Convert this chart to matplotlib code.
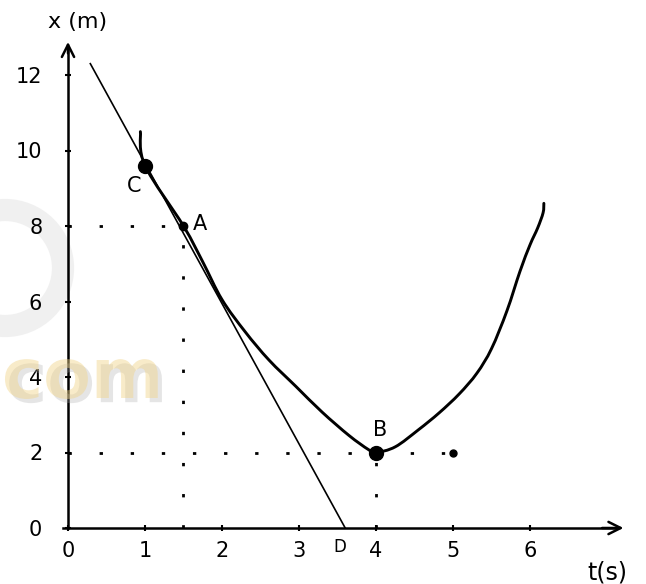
import numpy as np
import matplotlib.pyplot as plt
import matplotlib.patheffects as pe
from matplotlib.path import Path
from matplotlib.patches import PathPatch, Circle

# position-time curve of the particle (t in s, x in m)
curve_t = [0.94, 1.0, 1.5, 1.75, 2.0, 2.3, 2.61, 2.96, 3.30, 3.65, 3.9, 4.0,
           4.25, 4.55, 4.82, 5.08, 5.31, 5.50, 5.70, 5.87, 6.00, 6.10, 6.17, 6.18]
curve_x = [10.5, 9.6, 8.0, 7.05, 6.05, 5.2, 4.45, 3.75, 3.07, 2.45, 2.08, 2.0,
           2.15, 2.6, 3.05, 3.55, 4.1, 4.75, 5.75, 6.8, 7.5, 7.95, 8.35, 8.6]

# tangent line through A, reaching the t axis at D
tangent_t = [0.29, 3.6]
tangent_x = [12.3, 0.0]

# marked points
pt_C = (1.0, 9.6)
pt_A = (1.5, 8.0)
pt_B = (4.0, 2.0)
pt_E = (5.0, 2.0)
pt_D = (3.6, 0.0)

t_ticks = [0, 1, 2, 3, 4, 5, 6]
x_ticks = [0, 2, 4, 6, 8, 10, 12]


def smooth_path(xs, ys):
    """Catmull-Rom through the given points, drawn as cubic Bezier segments."""
    p = np.column_stack([xs, ys]).astype(float)
    p = np.vstack([p[0], p, p[-1]])
    verts = [p[1]]
    codes = [Path.MOVETO]
    for i in range(1, len(p) - 2):
        c1 = p[i] + (p[i + 1] - p[i - 1]) / 6.0
        c2 = p[i + 1] - (p[i + 2] - p[i]) / 6.0
        verts += [c1, c2, p[i + 1]]
        codes += [Path.CURVE4] * 3
    return Path(verts, codes)


W, H = 646, 584
fig = plt.figure(figsize=(W / 100, H / 100), dpi=100)
# axes box in pixels: left 30, right 640, top 30, bottom 560
ax = fig.add_axes([30 / W, (H - 560) / H, 610 / W, 530 / H])
ax.set_xlim((30 - 68) / 77.0, (640 - 68) / 77.0)
ax.set_ylim((528 - 560) / 37.75, (528 - 30) / 37.75)

# faded site watermark on the left
ring = Circle((5, H - 268), 58, transform=None, fill=False,
              lw=16, color='#e2e2e2', alpha=0.5, zorder=0)
fig.add_artist(ring)
fig.text(2 / W, (H - 398) / H, 'com', fontsize=50, fontweight='bold',
         color='#f1d488', alpha=0.45, zorder=0,
         path_effects=[pe.withSimplePatchShadow(offset=(3, -3), shadow_rgbFace='#aaaaaa', alpha=0.3)])

for s in ['top', 'right']:
    ax.spines[s].set_visible(False)
ax.spines['left'].set_position(('data', 0))
ax.spines['bottom'].set_position(('data', 0))
ax.spines['left'].set_bounds(0, 12.7)
ax.spines['bottom'].set_bounds(-0.07, 7.1)
ax.spines['left'].set_linewidth(1.8)
ax.spines['bottom'].set_linewidth(1.8)
ax.patch.set_alpha(0)

# arrow heads
ax.annotate('', xy=(0, 12.95), xytext=(0, 12.5),
            arrowprops=dict(arrowstyle='->', lw=1.8, mutation_scale=22, color='k'))
ax.annotate('', xy=(7.25, 0), xytext=(6.9, 0),
            arrowprops=dict(arrowstyle='->', lw=1.8, mutation_scale=22, color='k'))

ax.set_xticks(t_ticks)
ax.set_xticklabels([str(v) for v in t_ticks])
ax.set_yticks(x_ticks)
ax.set_yticklabels([str(v) for v in x_ticks])
ax.tick_params(axis='both', direction='inout', length=5, width=1.5, labelsize=15)
ax.tick_params(axis='x', pad=7)
ax.tick_params(axis='y', pad=16)

# dotted guide lines
dots = (0, (1.2, 10))
ax.plot([0, pt_A[0]], [pt_A[1], pt_A[1]], color='k', lw=2, ls=dots)
ax.plot([pt_A[0], pt_A[0]], [0, pt_A[1]], color='k', lw=2, ls=dots)
ax.plot([0, pt_E[0]], [pt_B[1], pt_B[1]], color='k', lw=2, ls=dots)
ax.plot([pt_B[0], pt_B[0]], [0, pt_B[1]], color='k', lw=2, ls=dots)

ax.plot(tangent_t, tangent_x, color='k', lw=1.2)
ax.add_patch(PathPatch(smooth_path(curve_t, curve_x), fill=False,
                       lw=2.1, ec='k', capstyle='round'))

ax.plot(*pt_C, 'o', color='k', ms=10)
ax.plot(*pt_A, 'o', color='k', ms=6)
ax.plot(*pt_B, 'o', color='k', ms=10)
ax.plot(*pt_E, 'o', color='k', ms=5)

ax.text(pt_C[0] - 0.05, pt_C[1] - 0.55, 'C', fontsize=15, ha='right', va='center')
ax.text(pt_A[0] + 0.12, pt_A[1] + 0.05, 'A', fontsize=15, ha='left', va='center')
ax.text(pt_B[0] + 0.05, pt_B[1] + 0.6, 'B', fontsize=15, ha='center', va='center')
ax.text(pt_D[0] - 0.07, -0.5, 'D', fontsize=12, ha='center', va='center')

ax.text(0.13, 13.4, 'x (m)', fontsize=16, ha='center', va='center', clip_on=False)
ax.text(7.0, -1.17, 't(s)', fontsize=17, ha='center', va='center', clip_on=False)

fig.savefig('out.png', dpi=100)
